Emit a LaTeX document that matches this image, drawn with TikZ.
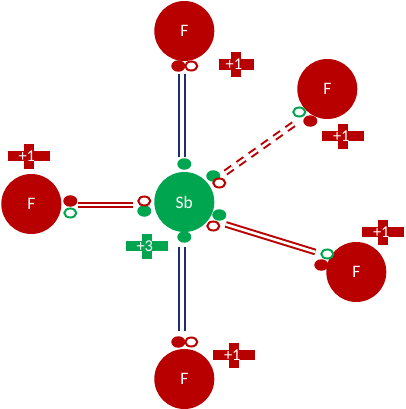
\documentclass[tikz,border=0pt]{standalone}
\usepackage{fontspec}
\setmainfont{Carlito}
\definecolor{fred}{HTML}{B80000}
\definecolor{sbgreen}{HTML}{00A64F}
\definecolor{bondnavy}{HTML}{1F2F6E}
\usetikzlibrary{shapes.geometric}
\tikzset{
  atomball/.style={circle, minimum size=60pt, inner sep=0pt, text=white, font=\fontsize{17.5}{19}\selectfont},
  dotfull/.style={ellipse, minimum width=14pt, minimum height=11.5pt, inner sep=0pt},
  dotopen/.style={ellipse, minimum width=12pt, minimum height=9pt, inner sep=0pt, fill=white, line width=2pt},
  crossv/.style={rectangle, minimum width=10pt, minimum height=25pt, inner sep=0pt},
  crossh/.style={rectangle, minimum width=42pt, minimum height=9pt, inner sep=0pt, text=white, font=\fontsize{16.5}{17}\selectfont},
  bondred/.style={draw=fred, double=white, line width=2pt, double distance=2.6pt},
  bondblue/.style={draw=bondnavy, double=white, line width=2.2pt, double distance=3.8pt}
}
\begin{document}
\begin{tikzpicture}[x=1pt,y=-1pt]
        \useasboundingbox (-0.3,0) rectangle (404.7,409);
        \node[atomball,fill=sbgreen] (sb) at (184,202) {Sb};
        \node[atomball,fill=fred] (ftop) at (184,31) {F};
        \node[atomball,fill=fred] (fupper) at (327,89) {F};
        \node[atomball,fill=fred] (fleft) at (31,204) {F};
        \node[atomball,fill=fred] (flower) at (356,272) {F};
        \node[atomball,fill=fred] (fbottom) at (184,379) {F};
        \node[dotfull,fill=sbgreen] (sbt) at (184,164) {};
        \node[dotfull,fill=sbgreen] (sbu) at (213,176) {};
        \node[dotfull,fill=sbgreen] (sbr) at (219,215) {};
        \node[dotfull,fill=sbgreen] (sbb) at (184,237) {};
        \node[dotfull,fill=sbgreen] (sbl) at (144,211) {};
        \node[dotopen,draw=fred] (opl) at (144,201) {};
        \node[dotopen,draw=fred] (opu) at (219,183) {};
        \node[dotopen,draw=fred] (opr) at (213,226) {};
        \node[dotfull,fill=fred] (dtop) at (178,66) {};
        \node[dotopen,draw=fred] (otop) at (191,66) {};
        \node[dotfull,fill=fred] (dupper) at (310,121) {};
        \node[dotopen,draw=sbgreen] (oupper) at (299,112) {};
        \node[dotfull,fill=fred] (dleft) at (70,201) {};
        \node[dotopen,draw=sbgreen] (oleft) at (70,213) {};
        \node[dotfull,fill=fred] (dlower) at (321,265) {};
        \node[dotopen,draw=sbgreen] (olower) at (327,254) {};
        \node[dotfull,fill=fred] (dbottom) at (178,342) {};
        \node[dotopen,draw=fred] (obottom) at (191,342) {};
        \draw[bondblue] ([xshift=3.3pt,yshift=-2pt]dtop.south) -- ([xshift=-2.7pt,yshift=1.5pt]sbt.north);
        \draw[bondblue] ([xshift=-2.7pt,yshift=-4pt]sbb.south) -- ([xshift=3.3pt,yshift=5pt]dbottom.north);
        \draw[bondred] ([yshift=-3.8pt]dleft.east) -- ([xshift=-4.7pt,yshift=-3.8pt]opl.west);
        \draw[bondred] ([xshift=7.5pt,yshift=-2.3pt]opr.north east) -- ([xshift=-5pt,yshift=2pt]olower.west);
        \draw[bondred,dash pattern=on 8.5pt off 6.5pt] ([xshift=1.3pt,yshift=6.5pt]opu.north east) -- ([xshift=-4pt,yshift=-5.5pt]oupper.south);
        \node[crossv,fill=fred] (ptopv) at (235.7,64.5) {};
        \node[crossh,fill=fred,minimum width=35pt] (ptop) at (ptopv) {+1\kern4pt};
        \node[crossv,fill=fred] (pupperv) at (343,136) {};
        \node[crossh,fill=fred] (pupper) at (pupperv) {+1\kern4pt};
        \node[crossv,fill=fred] (pleftv) at (28.5,156) {};
        \node[crossh,fill=fred] (pleft) at (pleftv) {+1\kern4pt};
        \node[crossv,fill=fred] (plowerv) at (383,232) {};
        \node[crossh,fill=fred] (plower) at (plowerv) {+1\kern4pt};
        \node[crossv,fill=fred] (pbottomv) at (234,355) {};
        \node[crossh,fill=fred] (pbottom) at (pbottomv) {+1\kern4pt};
        \node[crossv,fill=sbgreen] (psbv) at (146.5,246) {};
        \node[crossh,fill=sbgreen] (psb) at (psbv) {+3\kern4pt};
      \end{tikzpicture}
\end{document}
